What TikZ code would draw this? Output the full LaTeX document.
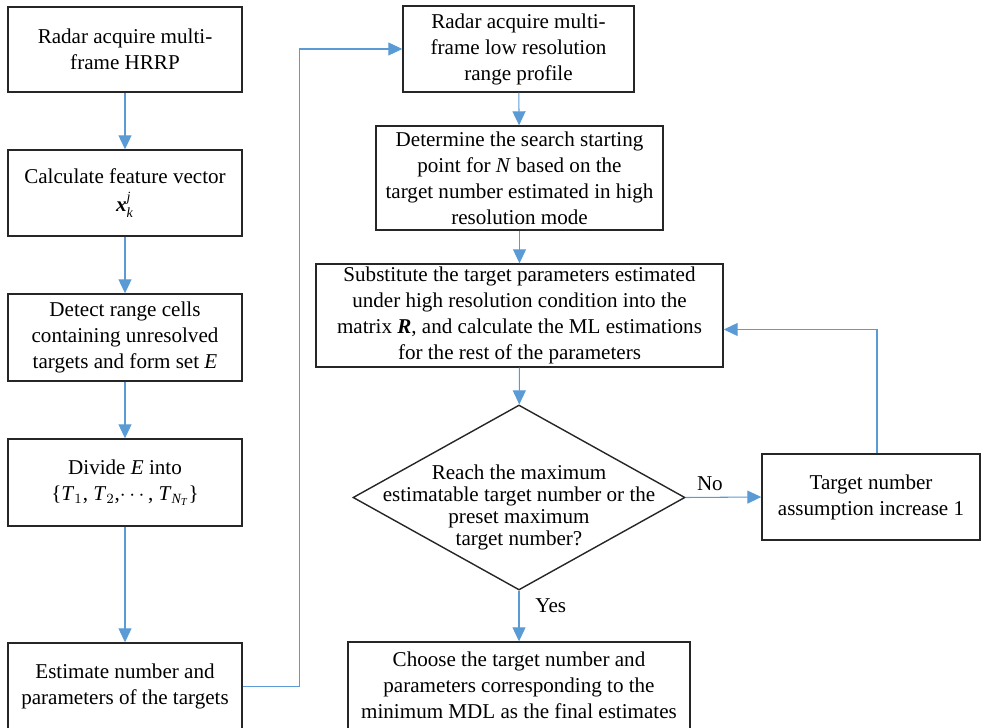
\documentclass[tikz,border=0pt]{standalone}
\usepackage{fontspec}
\usepackage{amsmath}
\setmainfont{Liberation Serif}
\usetikzlibrary{arrows.meta, shapes.geometric}
\definecolor{flowblue}{RGB}{91,155,213}
\definecolor{boxline}{RGB}{38,38,38}
\begin{document}
\begin{tikzpicture}[
        font=\fontsize{12}{14.8}\selectfont,
        box/.style={draw=boxline, line width=0.8pt, align=center, inner sep=0pt},
        decision/.style={draw=boxline, line width=0.8pt, diamond, inner sep=0pt},
        flow/.style={draw=flowblue, line width=0.6pt, -{Triangle[length=0.28cm, width=0.26cm]}}
    ]
        \useasboundingbox (0,0) rectangle (19.64,-14.56);

        % Left column
        \node[box, minimum width=4.68cm, minimum height=1.7cm] (L1) at (2.5, -0.99) {Radar acquire multi-\\frame HRRP};
        \node[box, minimum width=4.68cm, minimum height=1.72cm] (L2) at (2.5, -3.86) {Calculate feature vector\\[1pt]$\textbf{\textit{x}}^{\textit{j}}_{\textit{k}}$};
        \node[box, minimum width=4.68cm, minimum height=1.74cm] (L3) at (2.5, -6.75) {Detect range cells\\containing unresolved\\targets and form set \textit{E}};
        \node[box, minimum width=4.68cm, minimum height=1.74cm] (L4) at (2.5, -9.65) {Divide \textit{E} into\\\{\textit{T}$_1$, \textit{T}$_2$,$\cdots$, \textit{T}$_{\textit{N}_{\textit{T}}}$\}};
        \node[box, minimum width=4.68cm, minimum height=1.74cm] (L5) at (2.5, -13.73) {Estimate number and\\parameters of the targets};

        \foreach \a/\b in {L1/L2, L2/L3, L3/L4, L4/L5}{
            \draw[flow] (\a) -- (\b);
        }

        % Right column
        \node[box, minimum width=4.62cm, minimum height=1.72cm] (R1) at (10.37, -0.98) {Radar acquire multi-\\frame low resolution\\range profile};
        \node[box, minimum width=5.74cm, minimum height=2.08cm] (R2) at (10.39, -3.56) {Determine the search starting\\point for \textit{N} based on the\\target number estimated in high\\resolution mode};
        \node[box, minimum width=8.14cm, minimum height=2.06cm] (R3) at (10.39, -6.31) {Substitute the target parameters estimated\\under high resolution condition into the\\matrix \textbf{\textit{R}}, and calculate the ML estimations\\for the rest of the parameters};
        \node[decision, minimum width=6.64cm, minimum height=3.7cm] (D) at (10.38, -9.95) {};
        \node[align=center, inner sep=0pt, font=\fontsize{12}{12.6}\selectfont] (Dtext) at ([yshift=-0.2cm]D.center) {Reach the maximum\\estimatable target number or the\\preset maximum\\target number?};
        \node[box, minimum width=4.36cm, minimum height=1.72cm] (R4) at (17.42, -9.94) {Target number\\assumption increase 1};
        \node[box, minimum width=6.84cm, minimum height=1.74cm] (R5) at (10.38, -13.71) {Choose the target number and\\parameters corresponding to the\\minimum MDL as the final estimates};

        \draw[flow] (L5.east) -- ++(1.14,0) |- (R1.west);
        \draw[flow] (R1) -- (R2);
        \draw[flow] (R2) -- (R3);
        \draw[flow] (R3) -- (D);
        \draw[flow] (D.east) -- node[above, pos=0.32] {No} (R4.west);
        \draw[flow] ([xshift=0.12cm]R4.north) |- ([yshift=-0.28cm]R3.east);
        \draw[flow] (D.south) -- node[right, pos=0.3, xshift=0.2cm] {Yes} (R5.north);
    \end{tikzpicture}
\end{document}
